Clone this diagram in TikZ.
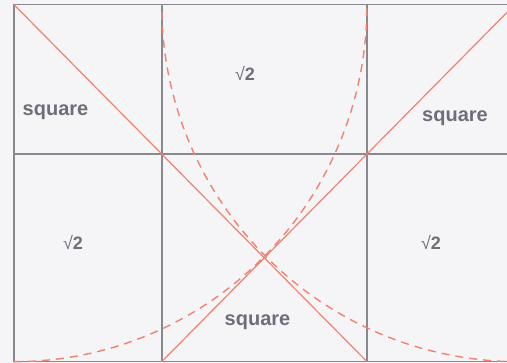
\documentclass[tikz,border=0pt]{standalone}
\usepackage{fontspec}
\setmainfont{Liberation Sans}
\definecolor{gridgray}{HTML}{88888F}
\definecolor{ratiored}{HTML}{F0826E}
\definecolor{labelgray}{HTML}{6E6E78}
\definecolor{paper}{HTML}{F5F5F8}
\begin{document}
\begin{tikzpicture}[
  x=1pt, y=1pt,
  grid/.style={draw=gridgray, line width=1.6pt},
  ratio/.style={draw=ratiored, line width=1.2pt},
  arcline/.style={draw=ratiored, line width=1.4pt, dash pattern=on 8pt off 6pt},
  lbl/.style={text=labelgray, inner sep=0pt, anchor=base},
  sqlabel/.style={lbl, font=\fontsize{20}{20}\selectfont\bfseries},
  rootlabel/.style={lbl, font=\fontsize{18}{18}\selectfont}
]
\useasboundingbox[fill=paper] (0,0) rectangle (507,363);
\clip (0,0) rectangle (507,363);

% corners and grid points
\coordinate (tl) at (14,358.3);
\coordinate (bl) at (14,1.3);
\coordinate (tr) at (519,358.3);
\coordinate (br) at (519,1.3);
\coordinate (ml) at (14,209);
\coordinate (mr) at (519,209);
\coordinate (ta) at (161.7,358.3);
\coordinate (ba) at (161.7,1.3);
\coordinate (tb) at (367,358.3);
\coordinate (bb) at (367,1.3);
\coordinate (top2) at (514.6,358.3);

% grid
\draw[grid] (tl) rectangle (br);
\draw[grid] (ml) -- (mr);
\draw[grid] (ta) -- (ba);
\draw[grid] (tb) -- (bb);

% diagonals
\draw[ratio] (tl) -- (bb);
\draw[ratio] (ba) -- (top2);

% quarter arcs
\draw[arcline] (bl) arc[start angle=-90, end angle=0, x radius=353, y radius=357];
\draw[arcline] (br) arc[start angle=270, end angle=180, x radius=357.3, y radius=357];

% labels
\node[sqlabel] (sqleft) at (55.5,247) {square};
\node[sqlabel] (sqright) at (455,241) {square};
\node[sqlabel] (sqbottom) at (257.5,37) {square};
\node[rootlabel] (rtop) at (245,282) {√\textbf{2}};
\node[rootlabel] (rleft) at (73,113) {√\textbf{2}};
\node[rootlabel] (rright) at (431,113) {√\textbf{2}};
\end{tikzpicture}
\end{document}
